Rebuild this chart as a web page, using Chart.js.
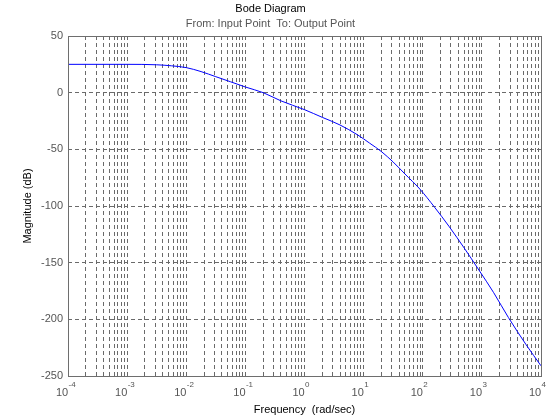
<!DOCTYPE html>
<html>
<head>
<meta charset="utf-8">
<title>Bode Diagram</title>
<script src="https://cdn.jsdelivr.net/npm/chart.js@4.4.1/dist/chart.umd.min.js"></script>
<style>
    html, body { margin: 0; padding: 0; background: #ffffff; }
    #wrap { width: 560px; height: 420px; }
</style>
</head>
<body>
<div id="wrap"><canvas id="bodeChart" width="560" height="420"></canvas></div>
<script>
// Frequency points (rad/sec)
const freq = [0.0001, 0.001, 0.00316, 0.00562, 0.01, 0.0178, 0.0316, 0.0562, 0.1, 0.2,
    0.398, 1, 2, 3.98, 7.94, 12.6, 20, 31.6, 50.1, 89.1,
    158, 282, 501, 891, 1585, 2818, 5623, 10000];

// Magnitude (dB) at those frequencies
const magnitude = [25, 25, 24.6, 23.7, 22.1, 18.6, 14.1, 9.6, 5.0, 0,
    -7.2, -15.0, -21.8, -28.5, -37.3, -44.5, -52, -61.2, -71.8, -85,
    -101, -118.4, -137, -156.5, -176.5, -198.5, -222.5, -241];

// Axis decades (10^n) and minor multipliers for the log grid
const decades = [-4, -3, -2, -1, 0, 1, 2, 3, 4];
const decadeLabels = ['-4', '-3', '-2', '-1', '0', '1', '2', '3', '4'];
const minorSteps = [1, 2, 3, 4, 5, 6, 7, 8, 9];
const yTicks = [50, 0, -50, -100, -150, -200, -250];

const FONT = "'Liberation Sans', Arial, sans-serif";
const GRID_COLOR = '#6a6a6a';

// log grid positions: every 1..9 x 10^n inside the range
const gridFreqs = [];
decades.forEach((d, i) => {
    minorSteps.forEach(m => {
        if (i === decades.length - 1 && m > 1) return;
        gridFreqs.push(m * Math.pow(10, d));
    });
});

function isDecade(v) {
    const l = Math.log10(v);
    return Math.abs(l - Math.round(l)) < 1e-9;
}

/**
 * Box around the plot area + exponents of the x tick labels
 */
const boxAndExponents = {
    id: 'boxAndExponents',
    afterDraw(chart) {
        const { ctx, chartArea: a, scales } = chart;
        ctx.save();
        ctx.strokeStyle = '#6e6e6e';
        ctx.lineWidth = 1;
        ctx.setLineDash([]);
        ctx.strokeRect(Math.round(a.left) + 0.5, Math.round(a.top) + 0.5,
            Math.round(a.right - a.left), Math.round(a.bottom - a.top));

        // superscript part of 10^n
        ctx.fillStyle = '#555555';
        ctx.font = '8px ' + FONT;
        ctx.textAlign = 'left';
        ctx.textBaseline = 'middle';
        decades.forEach((d, i) => {
            const x = scales.x.getPixelForValue(Math.pow(10, d));
            ctx.fillText(decadeLabels[i], x + 0.5, 385);
        });
        ctx.restore();
    }
};

new Chart(document.getElementById('bodeChart').getContext('2d'), {
    type: 'line',
    data: {
        datasets: [{
            label: 'Magnitude',
            data: freq.map((f, i) => ({ x: f, y: magnitude[i] })),
            borderColor: '#0000ff',
            borderWidth: 1,
            pointRadius: 0,
            fill: false,
            cubicInterpolationMode: 'monotone'
        }]
    },
    options: {
        responsive: false,
        animation: false,
        devicePixelRatio: 1,
        layout: { padding: { left: 0, right: 19, top: 0, bottom: 0 } },
        plugins: {
            legend: { display: false },
            tooltip: { enabled: false },
            title: {
                display: true,
                text: 'Bode Diagram',
                color: '#000000',
                font: { family: FONT, size: 11, weight: 'normal' },
                padding: { top: 2, bottom: 1 }
            },
            subtitle: {
                display: true,
                text: 'From: Input Point  To: Output Point',
                color: '#555555',
                font: { family: FONT, size: 11, weight: 'normal' },
                padding: { top: 1, bottom: 5.6 }
            }
        },
        scales: {
            x: {
                type: 'logarithmic',
                min: 0.0001,
                max: 10000,
                afterBuildTicks: scale => {
                    scale.ticks = gridFreqs.map(v => ({ value: v }));
                },
                afterFit: scale => { scale.height = 44; },
                grid: {
                    color: GRID_COLOR,
                    lineWidth: 1,
                    drawTicks: false
                },
                border: { display: false, dash: [4, 3] },
                ticks: {
                    autoSkip: false,
                    maxRotation: 0,
                    padding: 10,
                    labelOffset: -6,
                    color: '#555555',
                    font: { family: FONT, size: 11 },
                    callback: value => isDecade(value) ? '10' : ''
                },
                title: {
                    display: true,
                    text: 'Frequency  (rad/sec)',
                    color: '#000000',
                    font: { family: FONT, size: 11 },
                    padding: { top: 0, bottom: 3.4 }
                }
            },
            y: {
                type: 'linear',
                min: -250,
                max: 50,
                afterBuildTicks: scale => {
                    scale.ticks = yTicks.map(v => ({ value: v }));
                },
                afterFit: scale => { scale.width = 68; },
                grid: {
                    color: GRID_COLOR,
                    lineWidth: 1,
                    drawTicks: false
                },
                border: { display: false, dash: [4, 3] },
                ticks: {
                    padding: 5,
                    color: '#555555',
                    font: { family: FONT, size: 11 }
                },
                title: {
                    display: true,
                    text: 'Magnitude (dB)',
                    color: '#000000',
                    font: { family: FONT, size: 11 },
                    padding: { top: 21.4, bottom: 0 }
                }
            }
        }
    },
    plugins: [boxAndExponents]
});
</script>
</body>
</html>
